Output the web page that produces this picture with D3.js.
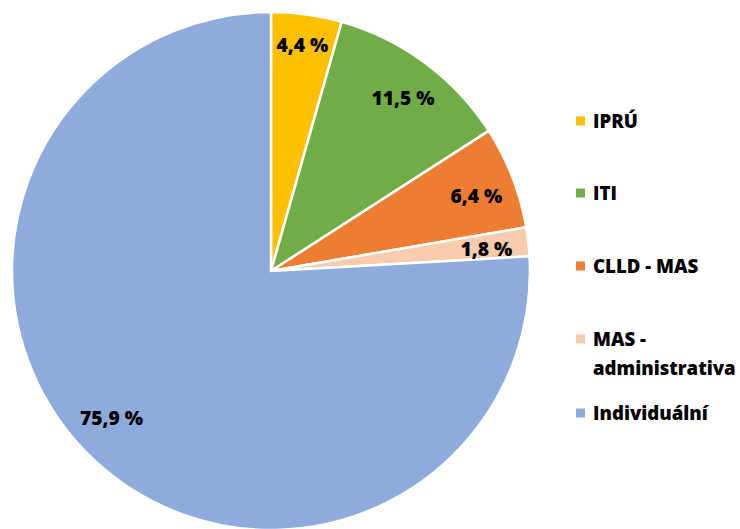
<!DOCTYPE html>
<html><head><meta charset="utf-8">
<script src="https://cdn.jsdelivr.net/npm/d3@7"></script>
<style>body{margin:0;background:#fff}svg{display:block}</style>
</head><body>
<svg id="c" width="740" height="529"></svg>
<script>
const categories = ["IPRÚ", "ITI", "CLLD - MAS", "MAS - administrativa", "Individuální"];
const values = [4.4, 11.5, 6.4, 1.8, 75.9];
const labels = ["4,4 %", "11,5 %", "6,4 %", "1,8 %", "75,9 %"];
const colors = ["#FFC000", "#70AD47", "#ED7D31", "#F8CBAD", "#8FAADC"];
// fine-tuning nudges (px) of the labels from the arc centroid
const labelNudge = [[1.5, -10.5], [2.5, 1.8], [2.7, 4.3], [-0.7, 2.6], [-10, -10.7]];

const FONT = "'Open Sans', Lato, sans-serif";
const svg = d3.select("#c");
const cx = 271, cy = 271, r = 259;
const g = svg.append("g").attr("transform", `translate(${cx},${cy})`);
const pie = d3.pie().sort(null).value(d => d)(values);
const arc = d3.arc().innerRadius(0).outerRadius(r);
const labelArc = d3.arc().innerRadius(r * 0.84).outerRadius(r * 0.84);
g.selectAll("path").data(pie).join("path")
  .attr("d", arc).attr("fill", (d,i) => colors[i])
  .attr("stroke", "#fff").attr("stroke-width", 2.5).attr("stroke-linejoin", "round");
g.selectAll("text").data(pie).join("text")
  .attr("transform", (d,i) => {
    const [x, y] = labelArc.centroid(d);
    return `translate(${x + labelNudge[i][0]},${y + labelNudge[i][1]})`;
  })
  .attr("text-anchor", "middle").attr("dy", "0.36em")
  .style("font-family", FONT).style("font-weight", 800)
  .style("font-size", "19.3px").attr("fill", "#000")
  .text((d,i) => labels[i]);

const legendY = [121, 193, 266, 339, 413];
const lg = svg.append("g");
categories.forEach((c, i) => {
  const row = lg.append("g").attr("transform", `translate(576,${legendY[i]})`);
  row.append("rect").attr("x", 0).attr("y", -4.5).attr("width", 9).attr("height", 9).attr("fill", colors[i]);
  const t = row.append("text")
    .style("font-family", FONT).style("font-weight", 800)
    .style("font-size", "18.6px").attr("fill", "#000");
  const parts = c === "MAS - administrativa" ? ["MAS -", "administrativa"] : [c];
  parts.forEach((p, k) => t.append("tspan").attr("x", 17).attr("dy", k === 0 ? "0.36em" : "1.6em").text(p));
});
</script>
</body></html>
